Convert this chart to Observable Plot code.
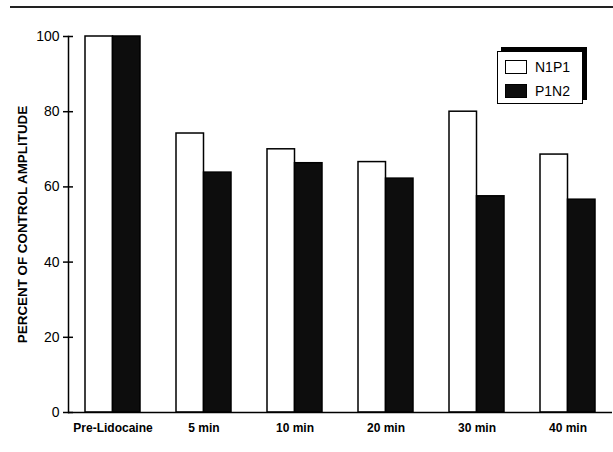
<!DOCTYPE html>
<html>
<head>
<meta charset="utf-8">
<script src="https://cdn.jsdelivr.net/npm/d3@7"></script>
<script src="https://cdn.jsdelivr.net/npm/@observablehq/plot@0.6"></script>
<style>
  html, body { margin: 0; padding: 0; background: #fff; }
  #wrap { position: relative; width: 613px; height: 452px; overflow: hidden; background: #fff; }
  #wrap svg { position: absolute; left: 0; top: 0; }
  #topline { position: absolute; left: 10px; top: 6px; width: 603px; height: 2px; background: #222; }
  #legend { position: absolute; left: 497px; top: 51px; width: 84px; height: 51px;
            border: 1.5px solid #000; box-shadow: 4px -4px 0 #000; background: #fff;
            font-family: "Liberation Sans", Arial, sans-serif; font-size: 14px; color: #000; }
  .item { position: absolute; left: 7px; height: 14px; }
  .sw { position: absolute; left: 0; top: 0; width: 20px; height: 12px; border: 1.5px solid #000; }
  .lab { position: absolute; left: 30px; top: -2px; line-height: 18px; white-space: nowrap; }
</style>
</head>
<body>
<div id="wrap">
  <div id="topline"></div>
</div>
<script>
const times = ["Pre-Lidocaine", "5 min", "10 min", "20 min", "30 min", "40 min"];
const n1p1 = [100, 74.2, 70.0, 66.6, 80.0, 68.6];
const p1n2 = [100, 63.8, 66.3, 62.2, 57.5, 56.6];
const yTicks = [0, 20, 40, 60, 80, 100];
const seriesNames = ["N1P1", "P1N2"];
const seriesFills = ["#fff", "#0d0d0d"];
const yLabel = "PERCENT OF CONTROL AMPLITUDE";

const rowsA = times.map((t, i) => ({time: t, value: n1p1[i], series: seriesNames[0]}));
const rowsB = times.map((t, i) => ({time: t, value: p1n2[i], series: seriesNames[1]}));

const half = 27.5;
const sans = "'Liberation Sans', Arial, sans-serif";

const chart = Plot.plot({
  width: 613,
  height: 452,
  marginLeft: 68,
  marginRight: 1,
  marginTop: 36,
  marginBottom: 40,
  style: {fontFamily: sans, fontSize: "13px", color: "#000", background: "transparent"},
  x: {domain: times, paddingInner: 0.397, paddingOuter: 0.181, axis: null},
  y: {domain: [0, 100], axis: null},
  marks: [
    Plot.barY(rowsA, {x: "time", y: "value", fill: seriesFills[0], stroke: "#000", strokeWidth: 1.5, insetRight: half}),
    Plot.barY(rowsB, {x: "time", y: "value", fill: seriesFills[1], stroke: "#000", strokeWidth: 1.5, insetLeft: half}),
    Plot.ruleY([0], {stroke: "#000", strokeWidth: 1.5}),
    Plot.frame({anchor: "left", stroke: "#000", strokeWidth: 1.5}),
    Plot.axisY({ticks: yTicks, tickSize: 5, tickPadding: 4, label: null, fontSize: 14, strokeWidth: 1.5}),
    Plot.axisY({ticks: yTicks, tickSize: 5, dx: 5, text: null, label: null, strokeWidth: 1.5}),
    Plot.axisX({tickSize: 0, tickPadding: 11, label: null, fontFamily: sans, fontWeight: "bold", fontSize: 12}),
    Plot.text([yLabel], {frameAnchor: "left", textAnchor: "middle", rotate: -90, dx: -46, fontWeight: "bold", fontSize: 13.4, fontFamily: sans})
  ]
});
document.getElementById("wrap").appendChild(chart);

const legend = document.createElement("div");
legend.id = "legend";
seriesNames.forEach((name, i) => {
  const item = document.createElement("div");
  item.className = "item";
  item.style.top = (i === 0 ? 8 : 32) + "px";
  const sw = document.createElement("div");
  sw.className = "sw";
  sw.style.background = seriesFills[i];
  const lab = document.createElement("div");
  lab.className = "lab";
  lab.textContent = name;
  item.appendChild(sw);
  item.appendChild(lab);
  legend.appendChild(item);
});
document.getElementById("wrap").appendChild(legend);
</script>
</body>
</html>
